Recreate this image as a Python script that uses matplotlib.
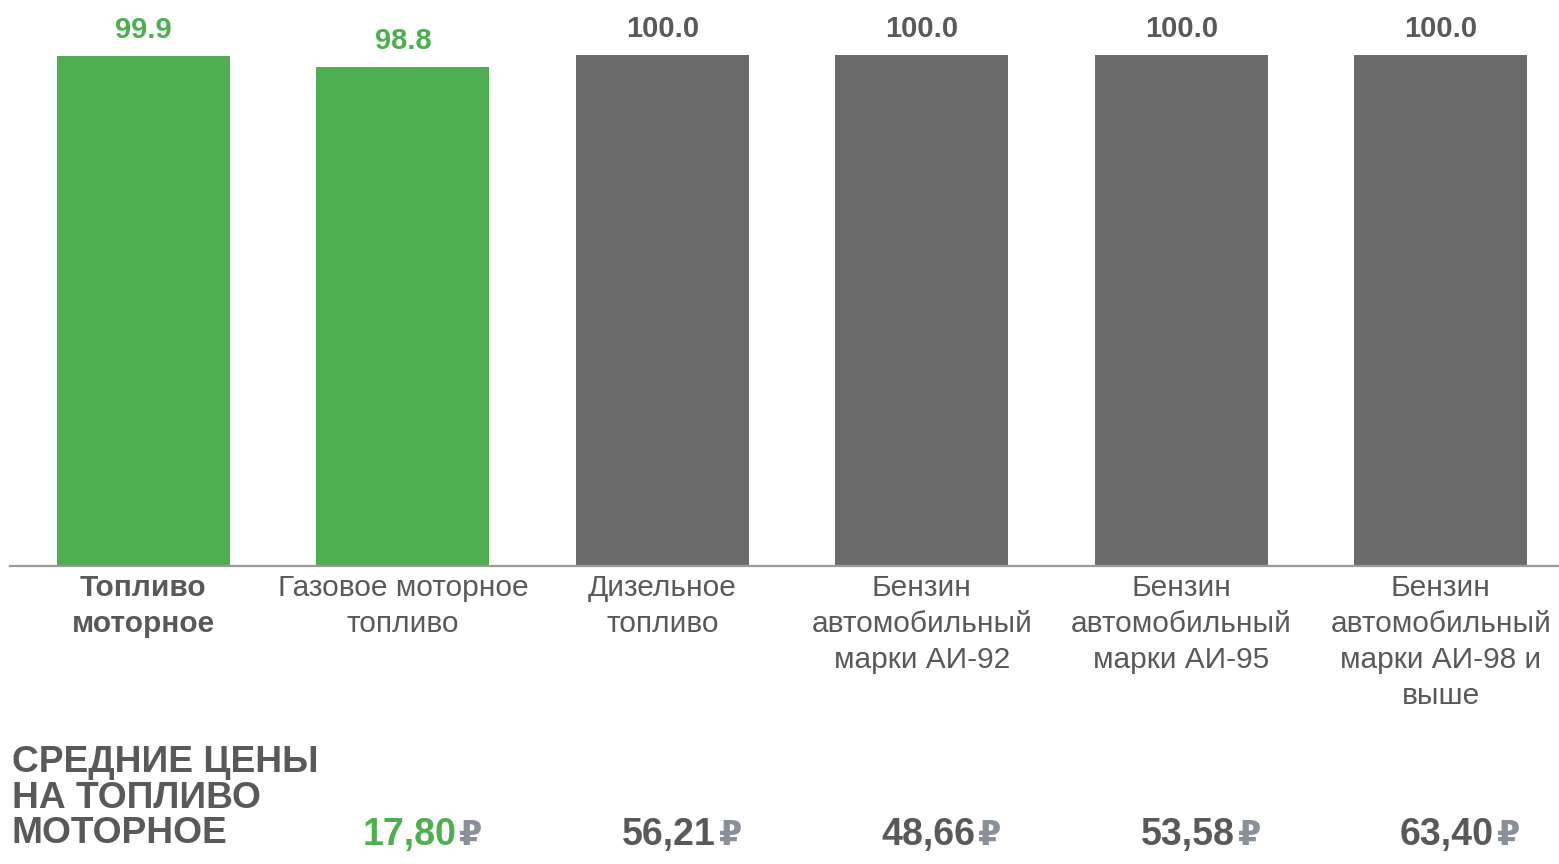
import matplotlib
matplotlib.use('Agg')
from matplotlib import pyplot as plt
from matplotlib import transforms

plt.rcParams['font.family'] = ['Liberation Sans', 'DejaVu Sans']

# data
categories = ['Топливо\nмоторное', 'Газовое моторное\nтопливо', 'Дизельное\nтопливо',
              'Бензин\nавтомобильный\nмарки АИ-92', 'Бензин\nавтомобильный\nмарки АИ-95',
              'Бензин\nавтомобильный\nмарки АИ-98 и\nвыше']
index_values = [99.9, 98.8, 100.0, 100.0, 100.0, 100.0]
prices = [None, '17,80', '56,21', '48,66', '53,58', '63,40']
highlight = [True, True, False, False, False, False]

green = '#4FAE50'
bar_gray = '#6B6B6B'
text_gray = '#595959'
rub_gray = '#8A909A'

fig = plt.figure(figsize=(15.59, 8.64), dpi=100)
ax = fig.add_axes([10 / 1559, 1 - 566 / 864, 1549 / 1559, 566 / 864])

colors = [green if h else bar_gray for h in highlight]
x = list(range(len(categories)))
ax.bar(x, index_values, width=0.667, color=colors)

ax.set_xlim(-0.514, 5.455)
ax.set_ylim(49.7, 105.4)

# value labels on top of the bars
for i, v in enumerate(index_values):
    ax.annotate(f'{v:.1f}', (i, v), xytext=(0, 12), textcoords='offset pixels',
                ha='center', va='bottom', fontsize=21, fontweight='bold',
                color=green if highlight[i] else text_gray)

for s in ['top', 'right', 'left']:
    ax.spines[s].set_visible(False)
ax.spines['bottom'].set_color('#9A9A9A')
ax.spines['bottom'].set_linewidth(1.6)
ax.set_yticks([])
ax.set_xticks(x)
ax.set_xticklabels(categories, fontsize=21.5, color=text_gray, linespacing=1.36)
ax.tick_params(axis='x', length=0, pad=6)
ax.get_xticklabels()[0].set_fontweight('bold')

# bottom block with prices
fig.text(12 / 1559, 1 - 745 / 864, 'СРЕДНИЕ ЦЕНЫ\nНА ТОПЛИВО\nМОТОРНОЕ',
         ha='left', va='top', fontsize=26.7, fontweight='bold', color=text_gray,
         linespacing=1.02)

trans = transforms.blended_transform_factory(ax.transData, fig.transFigure)
for i, p in enumerate(prices):
    if p is None:
        continue
    xr = i + 0.205
    ax.text(xr, 1 - 845 / 864, p, transform=trans, ha='right', va='baseline',
            fontsize=27, fontweight='bold', color=green if highlight[i] else text_gray)
    ax.text(xr + 0.012, 1 - 845 / 864, '₽', transform=trans, ha='left', va='baseline',
            fontsize=24, fontweight='bold', color=rub_gray)

fig.savefig('out.png', dpi=100)
